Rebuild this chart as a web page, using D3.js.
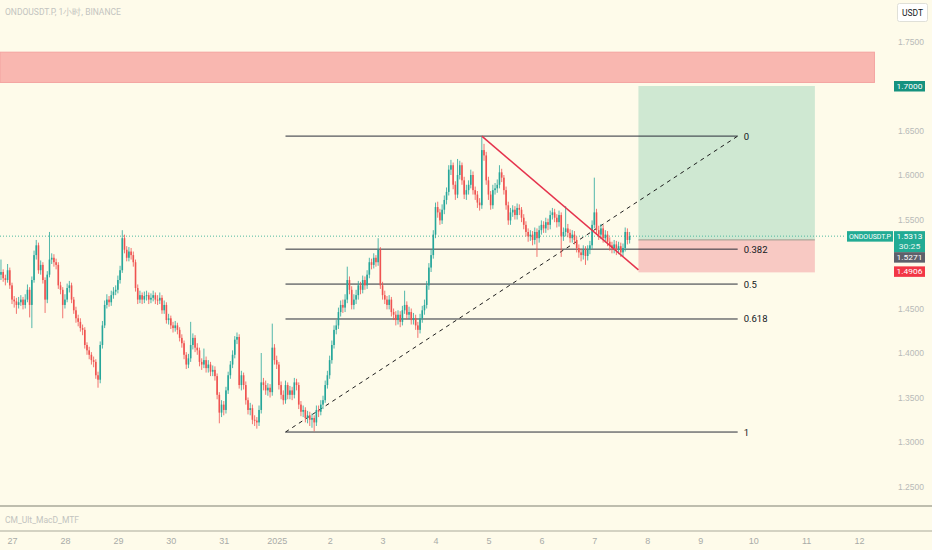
<!DOCTYPE html>
<html>
<head>
<meta charset="utf-8">
<script src="https://cdn.jsdelivr.net/npm/d3@7"></script>
<style>
  body { margin: 0; background: #fefbea; }
  svg { display: block; font-family: Roboto, "Liberation Sans", sans-serif; }
</style>
</head>
<body>
<script>
// hourly candles, ONDOUSDT.P, first candle Dec 26 19:00
const firstOpen = 1.488
const closes = [
1.491,1.484,1.482,1.493,1.476,1.460,1.458,1.454,1.457,1.460,
1.454,1.460,1.471,1.454,1.482,1.510,1.521,1.493,1.499,1.482,
1.460,1.488,1.505,1.507,1.502,1.499,1.476,1.471,1.454,1.460,
1.473,1.476,1.460,1.448,1.439,1.435,1.428,1.426,1.409,1.403,
1.398,1.392,1.390,1.375,1.370,1.409,1.431,1.454,1.460,1.457,
1.465,1.469,1.471,1.482,1.493,1.529,1.516,1.507,1.514,1.510,
1.502,1.473,1.460,1.465,1.460,1.464,1.465,1.460,1.462,1.465,
1.460,1.459,1.462,1.448,1.454,1.437,1.439,1.431,1.428,1.431,
1.426,1.417,1.411,1.398,1.387,1.394,1.409,1.417,1.406,1.403,
1.390,1.387,1.392,1.383,1.387,1.379,1.381,1.374,1.353,1.333,
1.342,1.336,1.358,1.375,1.387,1.398,1.415,1.418,1.364,1.375,
1.364,1.347,1.336,1.338,1.325,1.324,1.322,1.336,1.367,1.364,
1.358,1.361,1.356,1.406,1.392,1.387,1.364,1.353,1.347,1.364,
1.353,1.358,1.353,1.367,1.364,1.342,1.334,1.336,1.327,1.330,
1.325,1.327,1.322,1.336,1.334,1.342,1.347,1.364,1.375,1.392,
1.409,1.426,1.431,1.446,1.454,1.451,1.460,1.482,1.471,1.454,
1.460,1.465,1.476,1.471,1.482,1.476,1.488,1.502,1.499,1.507,
1.502,1.516,1.476,1.465,1.460,1.454,1.460,1.446,1.443,1.437,
1.443,1.435,1.448,1.454,1.443,1.446,1.437,1.439,1.431,1.426,
1.439,1.448,1.454,1.476,1.496,1.510,1.533,1.564,1.558,1.549,
1.561,1.572,1.581,1.606,1.611,1.589,1.578,1.600,1.611,1.594,
1.578,1.583,1.589,1.600,1.583,1.578,1.569,1.566,1.628,1.622,
1.594,1.578,1.566,1.583,1.585,1.589,1.603,1.597,1.583,1.566,
1.549,1.558,1.561,1.555,1.563,1.561,1.552,1.544,1.536,1.531,
1.533,1.527,1.536,1.529,1.538,1.544,1.540,1.547,1.544,1.555,
1.558,1.552,1.547,1.555,1.531,1.536,1.540,1.535,1.529,1.533,
1.527,1.518,1.513,1.510,1.516,1.509,1.516,1.521,1.544,1.558,
1.538,1.533,1.540,1.529,1.533,1.525,1.521,1.518,1.522,1.516,
1.520,1.513,1.518,1.536,1.527,1.5313
]
const highs = [
1.505,1.494,1.488,1.500,1.496,1.479,1.464,1.462,1.463,1.465,
1.463,1.466,1.477,1.474,1.486,1.515,1.527,1.524,1.504,1.502,
1.485,1.492,1.536,1.512,1.511,1.506,1.502,1.480,1.474,1.466,
1.478,1.481,1.479,1.463,1.452,1.443,1.439,1.432,1.429,1.412,
1.407,1.401,1.396,1.393,1.379,1.413,1.436,1.459,1.466,1.464,
1.470,1.474,1.476,1.487,1.498,1.538,1.533,1.520,1.519,1.518,
1.514,1.505,1.477,1.470,1.468,1.469,1.470,1.468,1.467,1.470,
1.468,1.465,1.468,1.465,1.459,1.457,1.444,1.442,1.435,1.436,
1.434,1.429,1.421,1.414,1.401,1.399,1.435,1.422,1.420,1.411,
1.406,1.394,1.405,1.396,1.392,1.390,1.386,1.385,1.377,1.356,
1.347,1.346,1.362,1.379,1.391,1.403,1.419,1.423,1.421,1.380,
1.378,1.368,1.350,1.344,1.342,1.330,1.328,1.341,1.400,1.372,
1.369,1.366,1.365,1.433,1.410,1.397,1.390,1.368,1.358,1.369,
1.367,1.363,1.362,1.372,1.371,1.367,1.346,1.341,1.339,1.335,
1.334,1.332,1.330,1.341,1.341,1.347,1.352,1.369,1.380,1.397,
1.414,1.431,1.437,1.451,1.459,1.460,1.466,1.497,1.486,1.475,
1.466,1.471,1.481,1.480,1.487,1.486,1.493,1.507,1.506,1.512,
1.510,1.529,1.519,1.480,1.470,1.464,1.465,1.463,1.450,1.447,
1.448,1.447,1.453,1.470,1.458,1.452,1.450,1.445,1.443,1.435,
1.444,1.453,1.460,1.481,1.501,1.516,1.538,1.569,1.570,1.562,
1.567,1.577,1.586,1.611,1.617,1.614,1.593,1.618,1.616,1.614,
1.598,1.589,1.594,1.606,1.604,1.587,1.582,1.574,1.644,1.635,
1.626,1.598,1.582,1.589,1.591,1.595,1.611,1.607,1.600,1.587,
1.570,1.563,1.566,1.565,1.568,1.567,1.564,1.556,1.548,1.540,
1.538,1.537,1.541,1.540,1.543,1.549,1.548,1.552,1.551,1.560,
1.563,1.562,1.556,1.560,1.558,1.541,1.565,1.545,1.539,1.538,
1.537,1.531,1.522,1.517,1.521,1.520,1.521,1.526,1.549,1.597,
1.562,1.543,1.545,1.544,1.538,1.537,1.530,1.525,1.527,1.526,
1.525,1.524,1.523,1.541,1.540,1.536
]
const lows = [
1.482,1.480,1.476,1.479,1.472,1.455,1.451,1.444,1.450,1.453,
1.449,1.450,1.457,1.440,1.428,1.479,1.505,1.489,1.488,1.478,
1.445,1.456,1.485,1.500,1.497,1.494,1.472,1.466,1.439,1.450,
1.457,1.468,1.456,1.444,1.434,1.430,1.424,1.420,1.405,1.398,
1.393,1.387,1.384,1.371,1.361,1.366,1.405,1.428,1.450,1.452,
1.453,1.461,1.465,1.467,1.478,1.490,1.512,1.503,1.503,1.505,
1.497,1.469,1.455,1.456,1.455,1.456,1.459,1.455,1.456,1.458,
1.455,1.454,1.455,1.444,1.444,1.433,1.432,1.427,1.423,1.424,
1.421,1.413,1.406,1.393,1.382,1.383,1.390,1.404,1.401,1.398,
1.385,1.381,1.383,1.378,1.378,1.374,1.374,1.369,1.348,1.321,
1.328,1.330,1.332,1.354,1.371,1.383,1.394,1.410,1.360,1.358,
1.359,1.342,1.331,1.330,1.320,1.318,1.315,1.318,1.332,1.358,
1.353,1.352,1.350,1.352,1.387,1.382,1.359,1.348,1.342,1.343,
1.348,1.348,1.347,1.349,1.358,1.337,1.329,1.328,1.322,1.321,
1.318,1.316,1.312,1.318,1.328,1.330,1.337,1.344,1.360,1.371,
1.388,1.405,1.421,1.427,1.441,1.445,1.446,1.456,1.466,1.449,
1.449,1.455,1.460,1.466,1.467,1.471,1.472,1.484,1.494,1.495,
1.497,1.498,1.472,1.460,1.455,1.449,1.449,1.441,1.437,1.431,
1.432,1.429,1.431,1.444,1.438,1.438,1.432,1.432,1.426,1.417,
1.422,1.434,1.443,1.450,1.471,1.491,1.506,1.529,1.552,1.544,
1.545,1.556,1.567,1.577,1.600,1.584,1.572,1.574,1.595,1.589,
1.573,1.572,1.578,1.585,1.578,1.572,1.563,1.560,1.562,1.616,
1.589,1.572,1.561,1.562,1.578,1.580,1.585,1.592,1.578,1.561,
1.544,1.544,1.553,1.550,1.550,1.555,1.547,1.539,1.531,1.525,
1.526,1.521,1.522,1.508,1.524,1.533,1.535,1.535,1.538,1.539,
1.550,1.547,1.541,1.542,1.508,1.526,1.531,1.530,1.524,1.524,
1.522,1.513,1.507,1.503,1.505,1.499,1.504,1.511,1.517,1.540,
1.533,1.527,1.528,1.524,1.524,1.520,1.515,1.512,1.512,1.510,
1.511,1.508,1.509,1.514,1.522,1.523
]

// 1.50 and 1.70 sit under the price tags, so they aren't drawn
const priceTicks = [1.25, 1.30, 1.35, 1.40, 1.45, 1.55, 1.60, 1.65, 1.75]
const dayLabels = ["27","28","29","30","31","2025","2","3","4","5","6","7","8","9","10","11","12"]

// drawings
const fibLevels = [0, 0.382, 0.5, 0.618, 1]
const fibTop = 1.6437, fibBottom = 1.3112
const fibStart = new Date(2025, 0, 1, 4), fibEnd = new Date(2025, 0, 9, 17)
const redLine = [[new Date(2025, 0, 4, 21), 1.6437], [new Date(2025, 0, 7, 20), 1.4934]]
const posStart = new Date(2025, 0, 7, 20), posEnd = new Date(2025, 0, 11, 4)
const target = 1.7000, entry = 1.5271, stop = 1.4906
const zoneTop = 1.738, zoneBottom = 1.704, zoneEnd = new Date(2025, 0, 12, 7)
const lastPrice = 1.5313

const w = 932
const h = 550

const svg = d3.select("body")
  .append("svg")
  .attr("width", w)
  .attr("height", h)
  .style("background-color", "#fefbea")

const t0 = new Date(2024, 11, 26, 19)
const candles = closes.map((c, i) => {
  const o = i === 0 ? firstOpen : closes[i - 1]
  return { t: d3.timeHour.offset(t0, i), o: o, h: highs[i], l: lows[i], c: c }
})

const xScale = d3.scaleTime()
  .domain([new Date(2024, 11, 27), new Date(2025, 0, 12)])
  .range([12, 859])

const yScale = d3.scaleLinear()
  .domain([1.25, 1.75])
  .range([486.5, 41.5])

// red resistance zone
svg.append("rect")
  .attr("x", 0)
  .attr("y", yScale(zoneTop))
  .attr("width", xScale(zoneEnd))
  .attr("height", yScale(zoneBottom) - yScale(zoneTop))
  .attr("fill", "#f9b7b0")
  .attr("stroke", "#f4a3a0")

// long position
svg.append("rect")
  .attr("x", xScale(posStart))
  .attr("y", yScale(target))
  .attr("width", xScale(posEnd) - xScale(posStart))
  .attr("height", yScale(entry) - yScale(target))
  .attr("fill", "#cfe8d2")
svg.append("rect")
  .attr("x", xScale(posStart))
  .attr("y", yScale(entry))
  .attr("width", xScale(posEnd) - xScale(posStart))
  .attr("height", yScale(stop) - yScale(entry))
  .attr("fill", "#f8c9c3")
svg.append("line")
  .attr("x1", xScale(posStart)).attr("x2", xScale(posEnd))
  .attr("y1", yScale(entry)).attr("y2", yScale(entry))
  .attr("stroke", "#9a9a8e")
  .attr("stroke-width", 1)

// last price dotted line
svg.append("line")
  .attr("x1", 0).attr("x2", 846)
  .attr("y1", yScale(lastPrice)).attr("y2", yScale(lastPrice))
  .attr("stroke", "#4fb89f")
  .attr("stroke-width", 1)
  .attr("stroke-dasharray", "1,2")

// fib levels
fibLevels.forEach(lv => {
  const p = fibTop - lv * (fibTop - fibBottom)
  svg.append("line")
    .attr("x1", xScale(fibStart)).attr("x2", xScale(fibEnd))
    .attr("y1", yScale(p)).attr("y2", yScale(p))
    .attr("stroke", "#2a2e39")
    .attr("stroke-width", 1)
  svg.append("text")
    .attr("x", xScale(fibEnd) + 6)
    .attr("y", yScale(p) + 3.5)
    .attr("font-size", 9.5)
    .attr("fill", "#131722")
    .text(lv)
})

// dashed trend
svg.append("line")
  .attr("x1", xScale(fibStart)).attr("y1", yScale(fibBottom))
  .attr("x2", xScale(fibEnd)).attr("y2", yScale(fibTop))
  .attr("stroke", "#1e1e1e")
  .attr("stroke-width", 1)
  .attr("stroke-dasharray", "4,4")

// candles
const bw = 1.6
const g = svg.append("g")
g.selectAll("line.wick")
  .data(candles)
  .enter()
  .append("line")
  .attr("class", "wick")
  .attr("x1", d => xScale(d.t)).attr("x2", d => xScale(d.t))
  .attr("y1", d => yScale(d.h)).attr("y2", d => yScale(d.l))
  .attr("stroke", d => d.c >= d.o ? "#26a69a" : "#ef5350")
  .attr("stroke-width", 0.8)
g.selectAll("rect")
  .data(candles)
  .enter()
  .append("rect")
  .attr("x", d => xScale(d.t) - bw / 2)
  .attr("y", d => yScale(Math.max(d.o, d.c)))
  .attr("width", bw)
  .attr("height", d => Math.max(1, Math.abs(yScale(d.o) - yScale(d.c))))
  .attr("fill", d => d.c >= d.o ? "#26a69a" : "#ef5350")

// red descending line
svg.append("line")
  .attr("x1", xScale(redLine[0][0])).attr("y1", yScale(redLine[0][1]))
  .attr("x2", xScale(redLine[1][0])).attr("y2", yScale(redLine[1][1]))
  .attr("stroke", "#e5334d")
  .attr("stroke-width", 1.5)

// title + indicator name
svg.append("text")
  .attr("x", 5).attr("y", 15)
  .attr("font-size", 8.5)
  .attr("fill", "#c3c4c0")
  .text("ONDOUSDT.P, 1小时, BINANCE")

svg.append("line").attr("x1", 0).attr("x2", w).attr("y1", 506).attr("y2", 506)
  .attr("stroke", "#a9a99a").attr("stroke-width", 1.5)
svg.append("line").attr("x1", 0).attr("x2", w).attr("y1", 531).attr("y2", 531)
  .attr("stroke", "#a9a99a").attr("stroke-width", 1)
svg.append("text")
  .attr("x", 5).attr("y", 523)
  .attr("font-size", 8.5)
  .attr("fill", "#c3c4c0")
  .text("CM_Ult_MacD_MTF")

// price axis
const yAxis = d3.axisRight(yScale)
  .tickValues(priceTicks)
  .tickFormat(d3.format(".4f"))
  .tickSize(0)
svg.append("g")
  .attr("transform", "translate(" + 897 + ",0)")
  .call(yAxis)
  .call(a => a.select(".domain").remove())
  .call(a => a.selectAll("text").attr("fill", "#b8bab8").attr("font-size", 8.5).attr("font-family", null).attr("dx", -2))

// time axis
const days = d3.timeDay.range(new Date(2024, 11, 27), new Date(2025, 0, 13))
const xAxis = d3.axisBottom(xScale)
  .tickValues(days)
  .tickFormat((d, i) => dayLabels[i])
  .tickSize(0)
svg.append("g")
  .attr("transform", "translate(0," + 535 + ")")
  .call(xAxis)
  .call(a => a.select(".domain").remove())
  .call(a => a.selectAll("text").attr("fill", "#a9aba8").attr("font-size", 9).attr("font-family", null))

// USDT box
svg.append("rect")
  .attr("x", 897.5).attr("y", 3.5).attr("width", 30).attr("height", 18).attr("rx", 2)
  .attr("fill", "#ffffff").attr("stroke", "#e0e0d8")
svg.append("text")
  .attr("x", 912.5).attr("y", 15.5).attr("text-anchor", "middle")
  .attr("font-size", 8.5).attr("fill", "#131722")
  .text("USDT")

// price labels
function tag(x, y, wd, ht, fill, lines) {
  svg.append("rect").attr("x", x).attr("y", y).attr("width", wd).attr("height", ht).attr("fill", fill)
  lines.forEach((s, i) => {
    svg.append("text")
      .attr("x", x + wd / 2).attr("y", y + 8 + i * 10)
      .attr("text-anchor", "middle")
      .attr("font-size", 7.8)
      .attr("textLength", Math.min(wd - 4, s.length * 4.3))
      .attr("lengthAdjust", "spacingAndGlyphs")
      .attr("fill", i === 1 ? "#e6f5f1" : "#ffffff")
      .text(s)
  })
}
tag(894, yScale(target) - 5, 31, 10.5, "#15927f", [d3.format(".4f")(target)])
tag(894, yScale(lastPrice) - 5, 31, 21, "#22ab94", [d3.format(".4f")(lastPrice), "30:25"])
tag(847, yScale(lastPrice) - 5, 46, 10.5, "#22ab94", ["ONDOUSDT.P"])
tag(894, yScale(lastPrice) + 16, 31, 10.5, "#5d606b", [d3.format(".4f")(entry)])
tag(894, yScale(stop) - 6, 31, 10.5, "#f23645", [d3.format(".4f")(stop)])
</script>
</body>
</html>
